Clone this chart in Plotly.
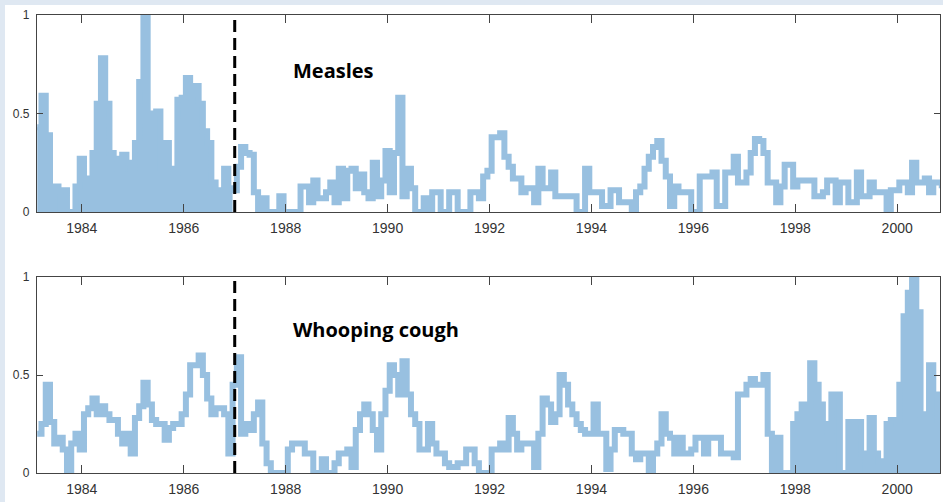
import plotly.graph_objects as go
from plotly.subplots import make_subplots

# Monthly normalised incidence, first value at Feb 1983
start_year = 1983.125
months_per_year = 12

measles = [
    0.43, 0.59, 0.39, 0.0, 0.13, 0.11, 0.11, 0.0, 0.0, 0.13,
    0.27, 0.17, 0.17, 0.3, 0.55, 0.78, 0.55, 0.3, 0.27, 0.22,
    0.29, 0.25, 0.22, 0.35, 0.66, 1.0, 0.49, 0.5, 0.51, 0.22,
    0.35, 0.22, 0.2, 0.57, 0.58, 0.68, 0.6, 0.64, 0.55, 0.41,
    0.35, 0.15, 0.11, 0.11, 0.22, 0.12, 0.11, 0.23, 0.33, 0.3,
    0.29, 0.1, 0.0, 0.07, 0.0, 0.0, 0.0, 0.08, 0.0, 0.0,
    0.0, 0.0, 0.13, 0.13, 0.05, 0.16, 0.07, 0.07, 0.1, 0.15,
    0.05, 0.22, 0.07, 0.21, 0.22, 0.12, 0.19, 0.1, 0.07, 0.25,
    0.08, 0.16, 0.31, 0.1, 0.3, 0.58, 0.08, 0.22, 0.12, 0.0,
    0.0, 0.07, 0.0, 0.1, 0.1, 0.0, 0.0, 0.1, 0.1, 0.0,
    0.0, 0.0, 0.1, 0.1, 0.07, 0.18, 0.21, 0.38, 0.38, 0.4,
    0.28, 0.23, 0.17, 0.17, 0.1, 0.12, 0.12, 0.05, 0.22, 0.12,
    0.12, 0.2, 0.08, 0.08, 0.08, 0.08, 0.08, 0.0, 0.0, 0.22,
    0.1, 0.1, 0.1, 0.03, 0.03, 0.11, 0.11, 0.05, 0.05, 0.05,
    0.0, 0.1, 0.13, 0.22, 0.28, 0.33, 0.36, 0.26, 0.18, 0.03,
    0.13, 0.1, 0.1, 0.1, 0.0, 0.0, 0.18, 0.18, 0.18, 0.2,
    0.03, 0.03, 0.2, 0.2, 0.28, 0.15, 0.15, 0.2, 0.3, 0.37,
    0.36, 0.3, 0.15, 0.15, 0.05, 0.13, 0.24, 0.24, 0.13, 0.16,
    0.16, 0.16, 0.16, 0.08, 0.08, 0.1, 0.16, 0.16, 0.05, 0.15,
    0.15, 0.05, 0.05, 0.2, 0.08, 0.08, 0.15, 0.1, 0.1, 0.1,
    0.0, 0.11, 0.11, 0.15, 0.15, 0.1, 0.25, 0.15, 0.15, 0.17,
    0.1, 0.15, 0.15, 0.12,
]

whooping_cough = [
    0.2, 0.25, 0.45, 0.26, 0.15, 0.18, 0.12, 0.0, 0.15, 0.2,
    0.12, 0.3, 0.33, 0.38, 0.3, 0.34, 0.3, 0.27, 0.27, 0.2,
    0.15, 0.2, 0.1, 0.28, 0.34, 0.46, 0.35, 0.27, 0.25, 0.25,
    0.17, 0.23, 0.25, 0.25, 0.3, 0.4, 0.55, 0.55, 0.6, 0.5,
    0.38, 0.3, 0.33, 0.33, 0.3, 0.1, 0.45, 0.59, 0.2, 0.25,
    0.22, 0.3, 0.36, 0.15, 0.05, 0.0, 0.0, 0.0, 0.0, 0.12,
    0.15, 0.15, 0.15, 0.1, 0.1, 0.0, 0.0, 0.07, 0.0, 0.0,
    0.05, 0.1, 0.1, 0.12, 0.03, 0.22, 0.3, 0.35, 0.3, 0.22,
    0.12, 0.3, 0.42, 0.55, 0.5, 0.4, 0.57, 0.4, 0.3, 0.25,
    0.12, 0.12, 0.25, 0.15, 0.1, 0.1, 0.05, 0.03, 0.03, 0.05,
    0.05, 0.12, 0.12, 0.05, 0.0, 0.0, 0.0, 0.12, 0.12, 0.15,
    0.12, 0.28, 0.2, 0.12, 0.15, 0.15, 0.15, 0.03, 0.2, 0.38,
    0.35, 0.26, 0.3, 0.5, 0.45, 0.35, 0.3, 0.25, 0.22, 0.2,
    0.2, 0.35, 0.2, 0.2, 0.02, 0.12, 0.22, 0.22, 0.2, 0.2,
    0.1, 0.07, 0.1, 0.1, 0.0, 0.1, 0.15, 0.3, 0.2, 0.18,
    0.1, 0.18, 0.1, 0.1, 0.12, 0.18, 0.18, 0.1, 0.18, 0.18,
    0.18, 0.1, 0.1, 0.1, 0.08, 0.4, 0.4, 0.45, 0.48, 0.45,
    0.45, 0.5, 0.2, 0.0, 0.18, 0.0, 0.0, 0.0, 0.25, 0.3,
    0.35, 0.3, 0.56, 0.45, 0.35, 0.25, 0.2, 0.4, 0.4, 0.0,
    0.0, 0.26, 0.26, 0.26, 0.1, 0.0, 0.28, 0.1, 0.06, 0.06,
    0.25, 0.27, 0.27, 0.45, 0.8, 0.92, 1.0, 0.82, 0.3, 0.25,
    0.55, 0.4, 0.27, 0.27,
]

panel_titles = ["Measles", "Whooping cough"]
year_ticks = [1984, 1986, 1988, 1990, 1992, 1994, 1996, 1998, 2000]
value_ticks = [0, 0.5, 1]
value_tick_labels = ["0", "0.5", "1"]
vaccination_year = 1987.0
measles_dense_until = 1987.0      # weekly counts dense enough to read as a filled area
whooping_dense_from = 1997.875

years = [start_year + i / months_per_year for i in range(len(measles))]

LINE_BLUE = "#98c0e0"
FONT = "Liberation Sans, Arial, sans-serif"

fig = make_subplots(rows=2, cols=1)

def add_series(row, values, dense_pred):
    dense_x = [x for x in years if dense_pred(x)]
    dense_y = [v for x, v in zip(years, values) if dense_pred(x)]
    fig.add_trace(go.Scatter(
        x=dense_x, y=dense_y, mode="lines", line=dict(width=0, shape="hv"),
        fill="tozeroy", fillcolor=LINE_BLUE, hoverinfo="skip", showlegend=False,
    ), row=row, col=1)
    fig.add_trace(go.Scatter(
        x=years, y=values, mode="lines",
        line=dict(color=LINE_BLUE, width=6, shape="hv"),
        showlegend=False,
    ), row=row, col=1)

add_series(1, measles, lambda x: x <= measles_dense_until + 1e-9)
add_series(2, whooping_cough, lambda x: x >= whooping_dense_from - 1e-9)

# figure geometry in pixels
W, H = 943, 502
ml, mr, mt, mb = 37, 3, 15, 29
pw, ph = W - ml - mr, H - mt - mb

def py(ypix):
    return (H - mb - ypix) / ph

def px(xpix):
    return (xpix - ml) / pw

xaxis_style = dict(
    range=[1983.12, 2000.84], tickvals=year_ticks, ticktext=[str(y) for y in year_ticks],
    ticks="inside", ticklen=8, tickcolor="#444", tickwidth=1,
    showline=True, linecolor="#444", linewidth=1.3, mirror="ticks",
    showgrid=False, zeroline=False,
    tickfont=dict(family=FONT, size=14, color="#333"),
    ticklabelstandoff=3,
)
yaxis_style = dict(
    range=[0, 1], tickvals=value_ticks, ticktext=value_tick_labels,
    ticks="inside", ticklen=6, tickcolor="#444", tickwidth=1,
    showline=True, linecolor="#444", linewidth=1.3, mirror="ticks",
    showgrid=False, zeroline=False,
    tickfont=dict(family=FONT, size=12, color="#333"),
    ticklabelstandoff=4,
)

fig.update_xaxes(**xaxis_style)
fig.update_yaxes(**yaxis_style)
fig.update_layout(
    yaxis=dict(domain=[py(212), py(15)]),
    yaxis2=dict(domain=[py(473), py(277)]),
)

shapes = [
    # white page area inside the tinted border strips
    dict(type="rect", xref="paper", yref="paper",
         x0=px(5), x1=px(W + 2), y0=py(H + 2), y1=py(5),
         fillcolor="white", line=dict(width=0), layer="below"),
]
for xr, yr in [("x", "y domain"), ("x2", "y2 domain")]:
    shapes.append(dict(
        type="line", xref=xr, yref=yr, x0=vaccination_year, x1=vaccination_year,
        y0=0, y1=1, line=dict(color="black", width=3, dash="12px,6px"), layer="above",
    ))

annotations = []
for (xr, yr, ypos), title in zip([("x", "y domain", 0.72), ("x2", "y2 domain", 0.73)], panel_titles):
    annotations.append(dict(
        text=f"<b>{title}</b>", xref=xr, yref=yr, x=1988.1, y=ypos,
        xanchor="left", yanchor="middle", showarrow=False,
        font=dict(family="Open Sans, sans-serif", size=20, color="black"),
    ))

fig.update_layout(
    width=W, height=H,
    margin=dict(l=ml, r=mr, t=mt, b=mb),
    paper_bgcolor="#dfe8f2", plot_bgcolor="white",
    shapes=shapes, annotations=annotations,
    showlegend=False,
)

fig.write_html("out.html")
